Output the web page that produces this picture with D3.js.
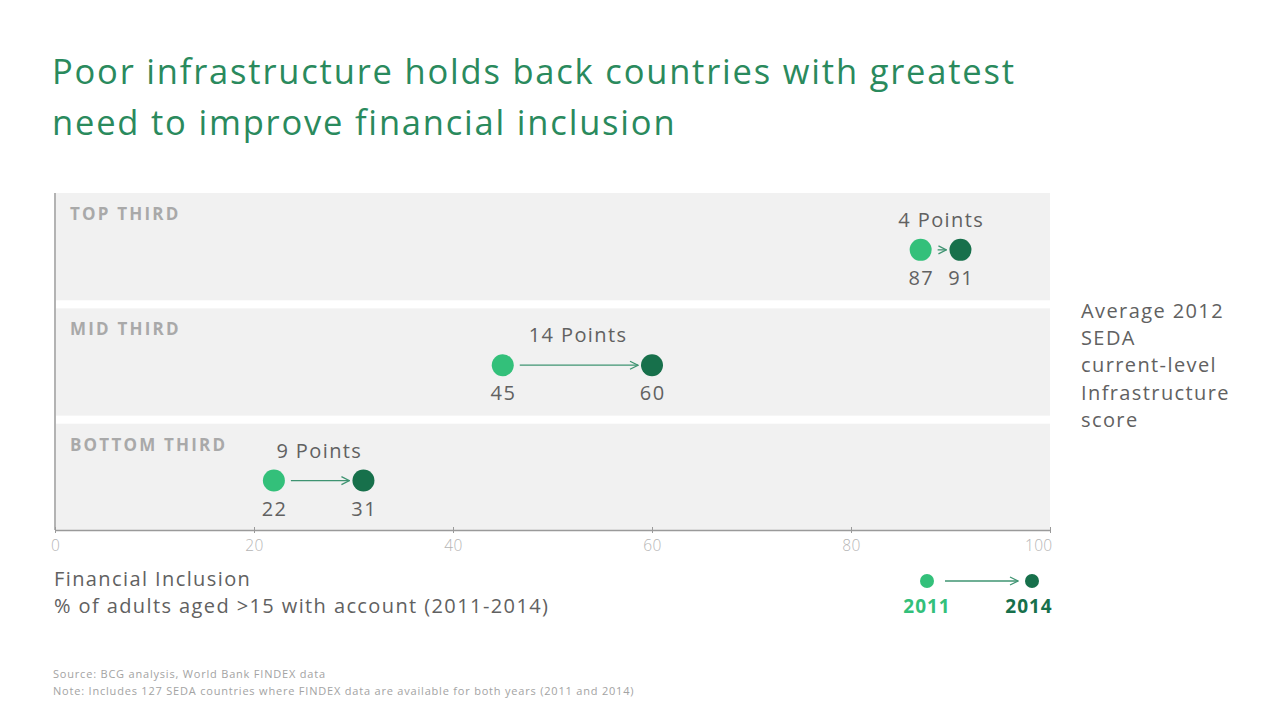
<!DOCTYPE html>
<html>
<head>
<meta charset="utf-8">
<script src="https://cdn.jsdelivr.net/npm/d3@7"></script>
<style>
  html, body { margin: 0; padding: 0; background: #fff; }
  svg { display: block; }
  text { font-family: "Open Sans", "Noto Sans", sans-serif; }
</style>
</head>
<body>
<svg id="chart" width="1280" height="723"></svg>
<script>
// ---- data ----
const titleLines = ["Poor infrastructure holds back countries with greatest", "need to improve financial inclusion"];
const groups = ["TOP THIRD", "MID THIRD", "BOTTOM THIRD"];
const values2011 = [87, 45, 22];
const values2014 = [91, 60, 31];
const changeLabels = ["4 Points", "14 Points", "9 Points"];
const xTicks = [0, 20, 40, 60, 80, 100];
const yearLabels = ["2011", "2014"];
const sideLabel = ["Average 2012", "SEDA", "current-level", "Infrastructure", "score"];
const axisTitle = ["Financial Inclusion", "% of adults aged >15 with account (2011-2014)"];
const notes = ["Source: BCG analysis, World Bank FINDEX data",
               "Note: Includes 127 SEDA countries where FINDEX data are available for both years (2011 and 2014)"];

// ---- styles ----
const cLight = "#33c07a", cDark = "#17704b", cArrow = "#3f9472", cTitle = "#2a8a5d";
const cText = "#616161", cBand = "#f1f1f1";
const LS = 1.4;

const svg = d3.select("#chart");

// defs: open arrowhead
svg.append("defs").append("marker")
  .attr("id", "arr").attr("viewBox", "0 0 10 10").attr("refX", 9).attr("refY", 5)
  .attr("markerWidth", 10).attr("markerHeight", 10).attr("markerUnits", "userSpaceOnUse")
  .attr("orient", "auto")
  .append("path").attr("d", "M1,1 L9,5 L1,9").attr("fill", "none")
  .attr("stroke", cArrow).attr("stroke-width", 1.3);

// title
svg.append("g").selectAll("text").data(titleLines).join("text")
  .attr("x", 52).attr("y", (d, i) => 84 + i * 51)
  .attr("fill", cTitle).attr("font-size", 34.5).attr("letter-spacing", 1.8).text(d => d);

// scales
const x = d3.scaleLinear().domain([0, 100]).range([55, 1050]);
const y = d3.scaleBand().domain(groups).range([193, 531]).paddingInner(0.07);

// bands
const rows = svg.append("g").selectAll("g").data(groups).join("g")
  .attr("transform", d => `translate(0,${y(d)})`);
rows.append("rect").attr("x", x(0) + 1).attr("y", 0)
  .attr("width", x(100) - x(0) - 1).attr("height", y.bandwidth()).attr("fill", cBand);
rows.append("text").attr("x", 70).attr("y", 27)
  .attr("fill", "#a9a9a9").attr("font-size", 17).attr("font-weight", 700)
  .attr("letter-spacing", 2.2).text(d => d);

const bw = y.bandwidth();
const r = 11;
groups.forEach((g, i) => {
  const gy = y(g);
  const cy = gy + bw * 0.53;
  const x1 = x(values2011[i]), x2 = x(values2014[i]);
  const gEl = svg.append("g");
  gEl.append("line").attr("x1", x1 + r + 6).attr("x2", x2 - r - 3)
    .attr("y1", cy).attr("y2", cy).attr("stroke", cArrow).attr("stroke-width", 1.3)
    .attr("marker-end", "url(#arr)");
  gEl.append("circle").attr("cx", x1).attr("cy", cy).attr("r", r).attr("fill", cLight);
  gEl.append("circle").attr("cx", x2).attr("cy", cy).attr("r", r).attr("fill", cDark);
  gEl.append("text").attr("x", (x1 + x2) / 2 + LS / 2).attr("y", cy - 23)
    .attr("text-anchor", "middle").attr("fill", cText).attr("font-size", 20)
    .attr("letter-spacing", LS).text(changeLabels[i]);
  gEl.append("text").attr("x", x1 + LS / 2).attr("y", cy + 35)
    .attr("text-anchor", "middle").attr("fill", cText).attr("font-size", 20)
    .attr("letter-spacing", LS).text(values2011[i]);
  gEl.append("text").attr("x", x2 + LS / 2).attr("y", cy + 35)
    .attr("text-anchor", "middle").attr("fill", cText).attr("font-size", 20)
    .attr("letter-spacing", LS).text(values2014[i]);
});

// axes
const axisY = 530;
const ax = svg.append("g").attr("transform", `translate(0,${axisY})`)
  .call(d3.axisBottom(x).tickValues(xTicks).tickSize(3).tickSizeOuter(0).tickPadding(7));
ax.select(".domain").attr("stroke", "#9a9a9a").attr("stroke-width", 1.5);
ax.selectAll(".tick line").attr("stroke", "#9a9a9a").attr("y1", -3).attr("y2", 3);
ax.selectAll(".tick text").attr("fill", "#b5b5b5").attr("font-size", 15.5)
  .attr("font-family", "'Open Sans', sans-serif").attr("font-weight", 300)
  .attr("letter-spacing", 0.3)
  .attr("text-anchor", d => d === 100 ? "end" : "middle")
  .attr("dx", d => d === 100 ? 2 : 0);
svg.append("line").attr("x1", x(0)).attr("x2", x(0)).attr("y1", 193).attr("y2", axisY)
  .attr("stroke", "#9a9a9a").attr("stroke-width", 1.5);

// axis title
svg.append("g").selectAll("text").data(axisTitle).join("text")
  .attr("x", 54).attr("y", (d, i) => 586 + i * 27)
  .attr("fill", cText).attr("font-size", 20).attr("letter-spacing", LS).text(d => d);

// side label
svg.append("g").selectAll("text").data(sideLabel).join("text")
  .attr("x", 1081).attr("y", (d, i) => 318 + i * 27.2)
  .attr("fill", cText).attr("font-size", 20).attr("letter-spacing", LS).text(d => d);

// legend
const lg = svg.append("g");
const lx1 = 927, lx2 = 1032, ly = 581;
lg.append("line").attr("x1", lx1 + 18).attr("x2", lx2 - 14).attr("y1", ly).attr("y2", ly)
  .attr("stroke", cArrow).attr("stroke-width", 1.3).attr("marker-end", "url(#arr)");
lg.append("circle").attr("cx", lx1).attr("cy", ly).attr("r", 7).attr("fill", cLight);
lg.append("circle").attr("cx", lx2).attr("cy", ly).attr("r", 7).attr("fill", cDark);
lg.selectAll("text.yr").data(yearLabels).join("text").attr("class", "yr")
  .attr("x", (d, i) => i === 0 ? lx1 : lx2 - 3).attr("y", 613)
  .attr("text-anchor", "middle").attr("font-weight", 700).attr("font-size", 19)
  .attr("letter-spacing", 1)
  .attr("fill", (d, i) => i === 0 ? cLight : cDark).text(d => d);

// notes
svg.append("g").selectAll("text").data(notes).join("text")
  .attr("x", 53).attr("y", (d, i) => 678 + i * 17)
  .attr("fill", "#a3a3a3").attr("font-size", 11).attr("letter-spacing", 0.8).text(d => d);
</script>
</body>
</html>
